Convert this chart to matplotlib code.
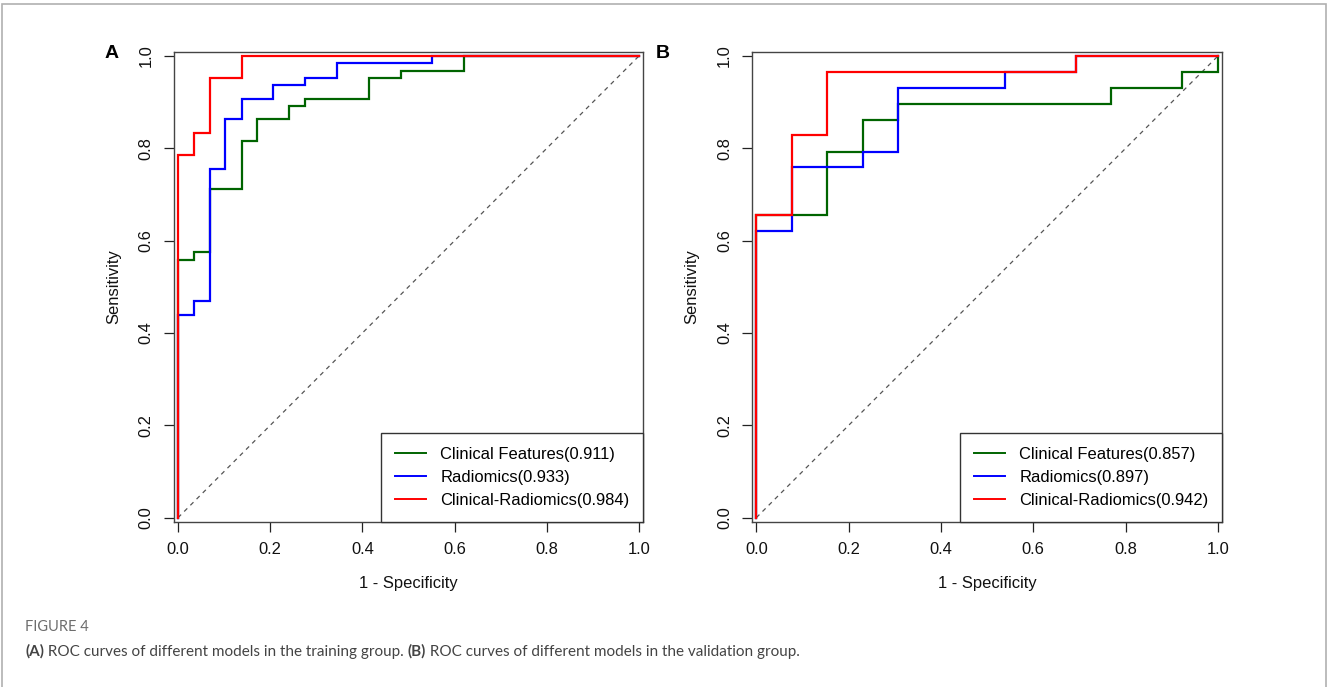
import matplotlib
matplotlib.use("Agg")
import matplotlib.pyplot as plt
from matplotlib.patches import Rectangle

# ---------------- data ----------------
# Panel A: training group (x = 1 - specificity, y = sensitivity), step vertices
train_clin_x = [0.0, 0.0, 0.034, 0.034, 0.069, 0.069, 0.138, 0.138, 0.172, 0.172, 0.241, 0.241,
                0.276, 0.276, 0.414, 0.414, 0.483, 0.483, 0.621, 0.621, 1.0]
train_clin_y = [0.0, 0.559, 0.559, 0.575, 0.575, 0.711, 0.711, 0.817, 0.817, 0.863, 0.863, 0.892,
                0.892, 0.907, 0.907, 0.953, 0.953, 0.968, 0.968, 1.0, 1.0]
train_rad_x = [0.0, 0.0, 0.034, 0.034, 0.069, 0.069, 0.103, 0.103, 0.138, 0.138, 0.207, 0.207,
               0.276, 0.276, 0.345, 0.345, 0.552, 0.552, 1.0]
train_rad_y = [0.0, 0.439, 0.439, 0.470, 0.470, 0.756, 0.756, 0.863, 0.863, 0.907, 0.907, 0.938,
               0.938, 0.953, 0.953, 0.984, 0.984, 1.0, 1.0]
train_comb_x = [0.0, 0.0, 0.034, 0.034, 0.069, 0.069, 0.138, 0.138, 1.0]
train_comb_y = [0.0, 0.786, 0.786, 0.833, 0.833, 0.953, 0.953, 1.0, 1.0]

# Panel B: validation group
val_clin_x = [0.0, 0.0, 0.154, 0.154, 0.231, 0.231, 0.308, 0.308, 0.769, 0.769, 0.923, 0.923,
              1.0, 1.0]
val_clin_y = [0.0, 0.655, 0.655, 0.793, 0.793, 0.862, 0.862, 0.897, 0.897, 0.931, 0.931, 0.966,
              0.966, 1.0]
val_rad_x = [0.0, 0.0, 0.077, 0.077, 0.231, 0.231, 0.308, 0.308, 0.538, 0.538, 0.692, 0.692, 1.0]
val_rad_y = [0.0, 0.621, 0.621, 0.759, 0.759, 0.793, 0.793, 0.931, 0.931, 0.966, 0.966, 1.0, 1.0]
val_comb_x = [0.0, 0.0, 0.077, 0.077, 0.154, 0.154, 0.692, 0.692, 1.0]
val_comb_y = [0.0, 0.655, 0.655, 0.828, 0.828, 0.966, 0.966, 1.0, 1.0]

series_names = ["Clinical Features", "Radiomics", "Clinical-Radiomics"]
train_auc = ["0.911", "0.933", "0.984"]
val_auc = ["0.857", "0.897", "0.942"]
ticks = [0.0, 0.2, 0.4, 0.6, 0.8, 1.0]
tick_labels = ["0.0", "0.2", "0.4", "0.6", "0.8", "1.0"]
panel_labels = ["A", "B"]
x_label = "1 - Specificity"
y_label = "Sensitivity"
caption_title = "FIGURE 4"
caption_parts = [("(A)", "bold"), (" ROC curves of different models in the training group. ", "normal"),
                 ("(B)", "bold"), (" ROC curves of different models in the validation group.", "normal")]

colors = ["#006400", "#0000FF", "#FF0000"]

# ---------------- figure ----------------
W, H = 1328, 687
fig = plt.figure(figsize=(W / 100, H / 100), dpi=100)
plt.rcParams['font.family'] = ['Liberation Sans', 'DejaVu Sans']

# outer frame
fig.patches.append(Rectangle((2 / W, -0.05), (1326 - 2) / W, 1.05 - 4.0 / H, transform=fig.transFigure,
                             fill=False, edgecolor="#b0b0b0", linewidth=1.2))

FS = 11.9
def px(x0, y0, x1, y1):
    return [x0 / W, 1 - y1 / H, (x1 - x0) / W, (y1 - y0) / H]

axA = fig.add_axes(px(174, 52, 643.3, 521.7))
axB = fig.add_axes(px(752.3, 52, 1222.3, 521.7))

panels = [
    (axA, [(train_clin_x, train_clin_y), (train_rad_x, train_rad_y), (train_comb_x, train_comb_y)], train_auc),
    (axB, [(val_clin_x, val_clin_y), (val_rad_x, val_rad_y), (val_comb_x, val_comb_y)], val_auc),
]

for ax, curves, aucs in panels:
    ax.plot([0, 1], [0, 1], linestyle=(0, (3.5, 3.5)), color="#555555", linewidth=0.9, zorder=1)
    handles = []
    for (xs, ys), c, name, auc in zip(curves, colors, series_names, aucs):
        h, = ax.plot(xs, ys, color=c, linewidth=1.6, solid_joinstyle="miter", zorder=2,
                     label=f"{name}({auc})")
        handles.append(h)
    ax.set_xlim(-0.0087, 1.0095)
    ax.set_ylim(-0.0087, 1.0087)
    ax.set_xticks(ticks)
    ax.set_xticklabels(tick_labels)
    ax.set_yticks(ticks)
    ax.set_yticklabels(tick_labels, rotation=90, va="center")
    ax.tick_params(axis="both", length=7.2, width=0.9, color="#222222", pad=7.3, labelsize=FS,
                   labelcolor="#111111")
    for s in ax.spines.values():
        s.set_color("#444444")
        s.set_linewidth(1.0)
    ax.set_xlabel(x_label, fontsize=FS, va="center", color="#111111")
    ax.xaxis.set_label_coords(0.5, -0.131)
    ax.set_ylabel(y_label, fontsize=FS, va="center", color="#111111")
    ax.yaxis.set_label_coords(-0.128, 0.5)
    leg = ax.legend(handles=handles, loc="lower right", fontsize=FS, frameon=True, fancybox=False,
                    borderaxespad=0, handlelength=1.85, handletextpad=0.88, borderpad=0.85,
                    labelspacing=0.48)
    leg.get_frame().set_edgecolor("#333333")
    leg.get_frame().set_linewidth(1.0)
    leg.get_frame().set_alpha(1)
    for line in leg.get_lines():
        line.set_linewidth(1.4)

fig.text(105 / W, 1 - 54 / H, panel_labels[0], fontsize=14, fontweight="bold", ha="left", va="center")
fig.text(656 / W, 1 - 54 / H, panel_labels[1], fontsize=14, fontweight="bold", ha="left", va="center")

# caption
cap_font = ['Lato', 'DejaVu Sans']
fig.text(25 / W, 1 - 626.7 / H, caption_title, fontsize=10.5, color="#6d6d6d", family=cap_font,
         ha="left", va="center")
renderer = fig.canvas.get_renderer()
x = 25 / W
for txt, wt in caption_parts:
    t = fig.text(x, 1 - 651.7 / H, txt, fontsize=11, color="#444444", family=cap_font,
                 fontweight=wt, ha="left", va="center")
    bb = t.get_window_extent(renderer=renderer)
    x = bb.x1 / W

fig.savefig("out.png", dpi=100)
